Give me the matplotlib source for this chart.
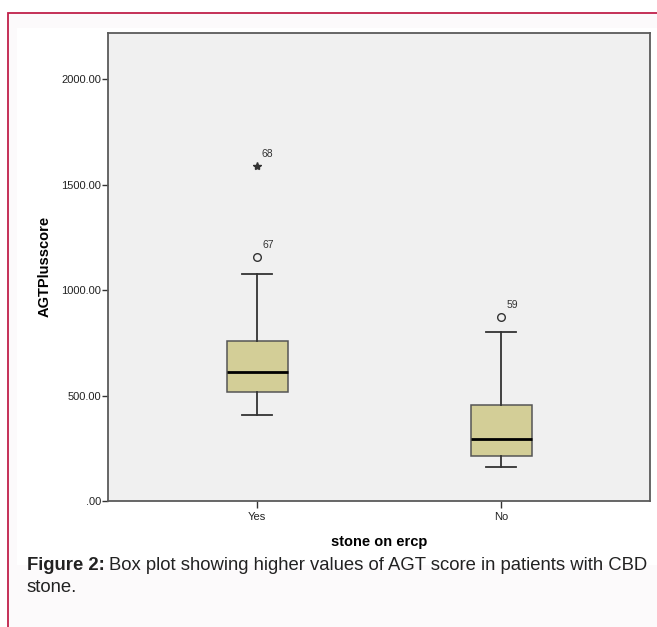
import matplotlib.pyplot as plt
from matplotlib.patches import Rectangle

# данные
groups = ['Yes', 'No']
q1 = [519, 214]
medians = [613, 293]
q3 = [761, 455]
whisker_low = [407, 163]
whisker_high = [1078, 801]
outlier_circle = [[1159], [875]]
outlier_circle_ids = [['67'], ['59']]
outlier_star = [[1591], []]
outlier_star_ids = [['68'], []]
y_ticks = [0, 500, 1000, 1500, 2000]
y_tick_labels = ['.00', '500.00', '1000.00', '1500.00', '2000.00']

W, H = 657, 627
fig = plt.figure(figsize=(W / 100, H / 100), dpi=100)
fig.patch.set_facecolor('white')


def frac(x, y):
    return x / W, 1 - y / H


# рамка страницы и белая подложка графика
x0, y0 = frac(7.5, 13)
fig.patches.append(Rectangle((x0, -0.1), 1.2, y0 + 0.1, transform=fig.transFigure,
                             facecolor='#fcfafb', edgecolor='#c0204a', lw=1.3, zorder=-2))
x0, y0 = frac(17, 565)
x1, y1 = frac(657, 28)
fig.patches.append(Rectangle((x0, y0), x1 - x0, y1 - y0, transform=fig.transFigure,
                             facecolor='white', edgecolor='none', zorder=-1))

left, top = frac(108.3, 32.7)
right, bottom = frac(650, 501)
ax = fig.add_axes([left, bottom, right - left, top - bottom])
ax.set_facecolor('#f0f0f0')

positions = [1, 2]
stats = []
for i, g in enumerate(groups):
    stats.append(dict(label=g, q1=q1[i], med=medians[i], q3=q3[i],
                      whislo=whisker_low[i], whishi=whisker_high[i], fliers=[]))

ax.bxp(stats, positions=positions, widths=0.25, patch_artist=True, showfliers=False,
       boxprops=dict(facecolor='#d3ce97', edgecolor='#555555', lw=1.1),
       medianprops=dict(color='black', lw=2.0),
       whiskerprops=dict(color='#333333', lw=1.3),
       capprops=dict(color='#333333', lw=1.3),
       capwidths=0.125)

for i, p in enumerate(positions):
    for v, lab in zip(outlier_circle[i], outlier_circle_ids[i]):
        ax.plot(p, v, 'o', ms=5.5, mfc='none', mec='#333333', mew=1.0)
        ax.annotate(lab, (p, v), xytext=(4, 6), textcoords='offset points',
                    fontsize=7.5, color='#333333', family='Liberation Sans')
    for v, lab in zip(outlier_star[i], outlier_star_ids[i]):
        ax.plot(p, v, '*', ms=6, color='#333333')
        ax.annotate(lab, (p, v), xytext=(3, 6), textcoords='offset points',
                    fontsize=7.5, color='#333333', family='Liberation Sans')

ax.set_xlim(0.389, 2.611)
ax.set_ylim(0, 2222)
ax.set_yticks(y_ticks)
ax.set_yticklabels(y_tick_labels)
ax.set_xticks(positions)
ax.set_xticklabels(groups)
ax.tick_params(axis='both', direction='out', length=4, width=1, color='#333333',
               labelsize=8, labelcolor='#222222', pad=1)
ax.tick_params(axis='x', length=5, pad=3)
for lab in ax.get_xticklabels() + ax.get_yticklabels():
    lab.set_family('Liberation Sans')
for s in ax.spines.values():
    s.set_color('#5a5a5a')
    s.set_linewidth(1.3)

ax.set_ylabel('AGTPlusscore', fontsize=10.5, fontweight='bold', family='Liberation Sans')
ax.yaxis.set_label_coords(-0.104, 0.5)
ax.set_xlabel('stone on ercp', fontsize=10.5, fontweight='bold', family='Liberation Sans', labelpad=9)

# подпись рисунка
cx, cy = frac(27, 566)
t = fig.text(cx, cy, 'Figure 2:', fontsize=13.3, fontweight='bold', family='Liberation Sans',
             color='#222222', va='center')
fig.canvas.draw()
bb = t.get_window_extent()
fig.text(bb.x1 / W + 4 / W, cy, 'Box plot showing higher values of AGT score in patients with CBD',
         fontsize=13.3, family='Liberation Sans', color='#222222', va='center')
cx, cy = frac(27, 588)
fig.text(cx, cy, 'stone.', fontsize=13.3, family='Liberation Sans', color='#222222', va='center')

fig.savefig('out.png', dpi=100)
